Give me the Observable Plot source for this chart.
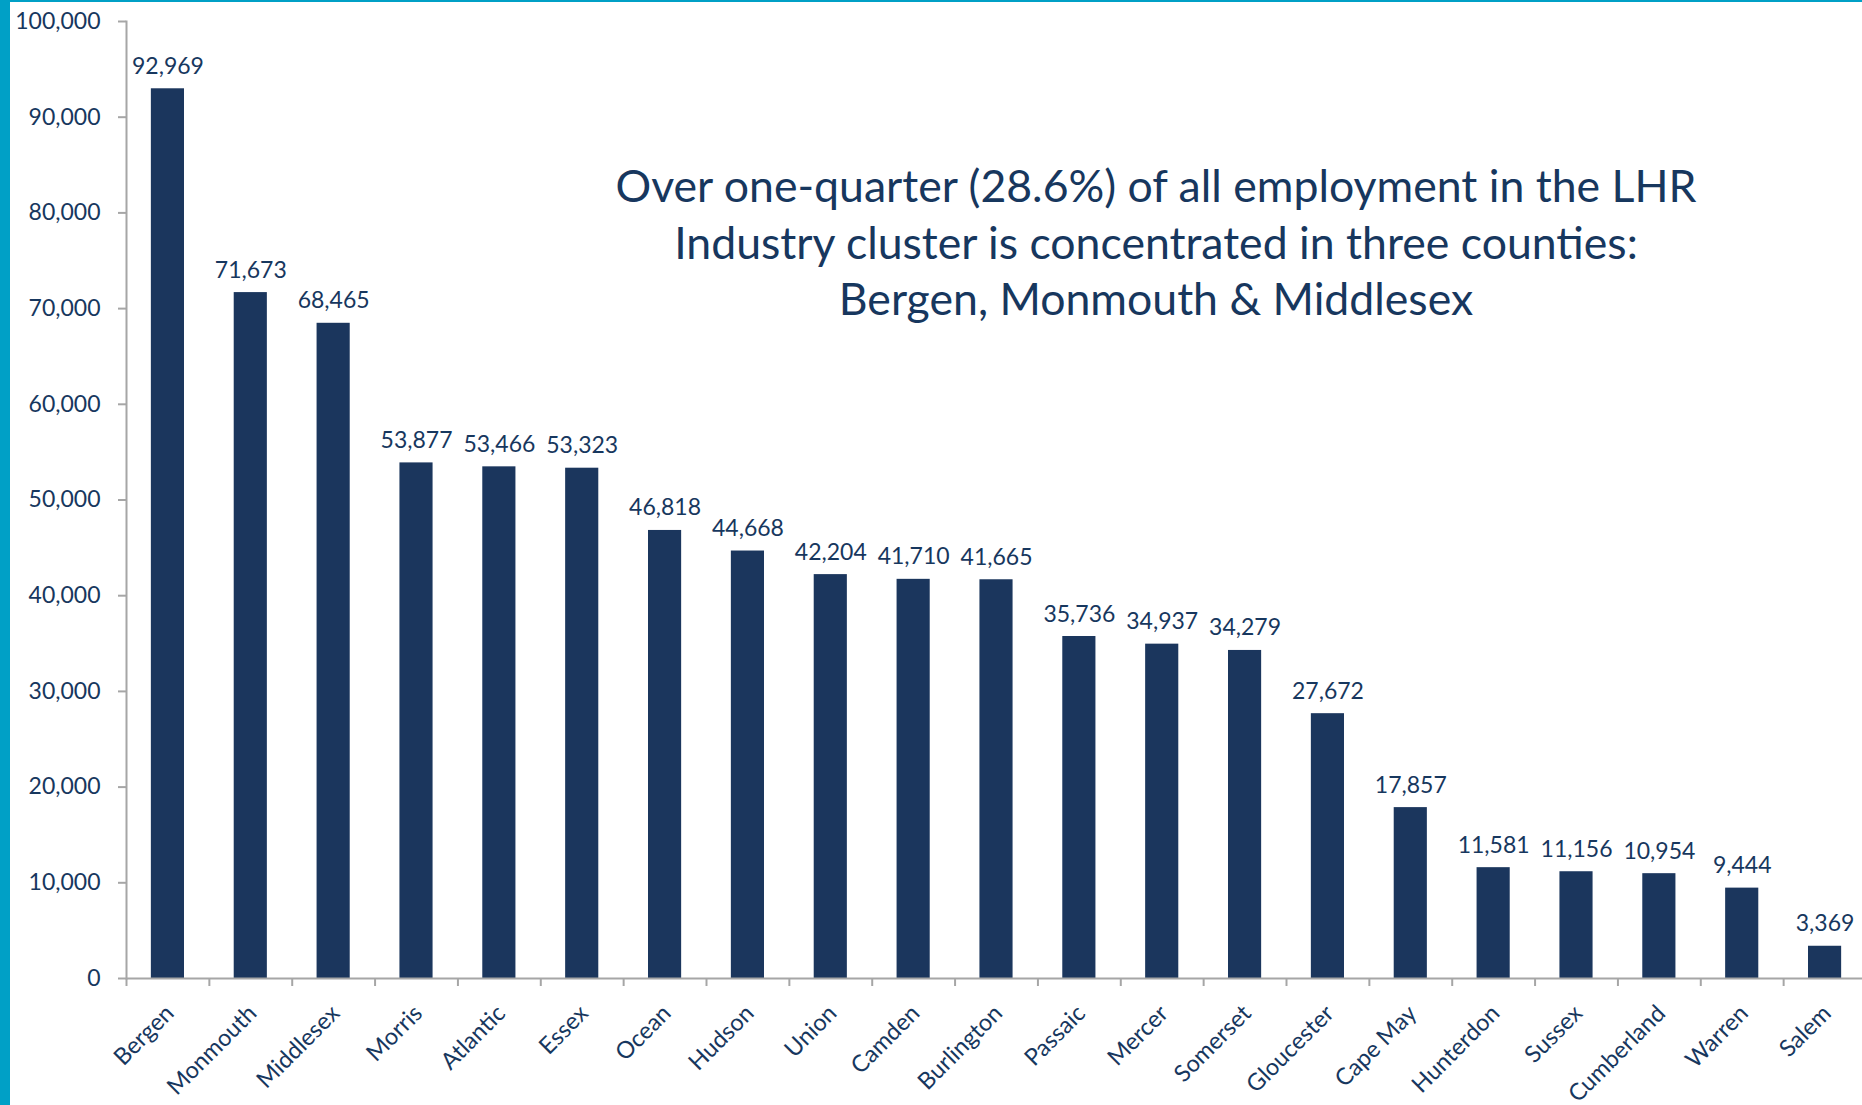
<!DOCTYPE html>
<html>
<head>
<meta charset="utf-8">
<script src="https://cdn.jsdelivr.net/npm/d3@7"></script>
<script src="https://cdn.jsdelivr.net/npm/@observablehq/plot@0.6"></script>
<style>
  html, body { margin: 0; padding: 0; background: #fff; overflow: hidden; }
  #wrap { position: relative; width: 1862px; height: 1105px; }
  #chart svg { display: block; overflow: visible; }
  #borderLeft { position: absolute; left: 0; top: 0; width: 10px; height: 1105px; background: #00A0C6; }
  #borderTop { position: absolute; left: 0; top: 0; width: 1862px; height: 2px; background: #00A0C6; }
  #note {
    position: absolute; left: 556px; top: 157px; width: 1200px;
    text-align: center; font-family: Lato, "Noto Sans", sans-serif;
    font-size: 44.6px; line-height: 56.5px; color: #17375E;
  }
</style>
</head>
<body>
<div id="wrap">
  <div id="chart"></div>
  <div id="note">Over one-quarter (28.6%) of all employment in the LHR<br>Industry cluster is concentrated in three counties:<br>Bergen, Monmouth &amp; Middlesex</div>
  <div id="borderLeft"></div>
  <div id="borderTop"></div>
</div>
<script>
const counties = ["Bergen","Monmouth","Middlesex","Morris","Atlantic","Essex","Ocean","Hudson","Union","Camden","Burlington","Passaic","Mercer","Somerset","Gloucester","Cape May","Hunterdon","Sussex","Cumberland","Warren","Salem"];
const employment = [92969,71673,68465,53877,53466,53323,46818,44668,42204,41710,41665,35736,34937,34279,27672,17857,11581,11156,10954,9444,3369];
const yTicks = [0,10000,20000,30000,40000,50000,60000,70000,80000,90000,100000];

const data = counties.map((c, i) => ({county: c, value: employment[i]}));

const W = 1862, H = 1105;
const mL = 126, mR = -4, mT = 21, mB = 127;
const step = (W - mL - mR) / counties.length;
const navy = "#17375E";
const barColor = "#1B365D";
const axisGray = "#A6A6A6";
const fmt = d3.format(",");

const chart = Plot.plot({
  width: W,
  height: H,
  marginLeft: mL,
  marginRight: mR,
  marginTop: mT,
  marginBottom: mB,
  style: {fontFamily: "Lato, 'Noto Sans', sans-serif", color: navy, background: "transparent"},
  x: {type: "band", domain: counties, paddingInner: 0.6, paddingOuter: 0.3, round: false, label: null},
  y: {domain: [0, 100000], label: null},
  marks: [
    Plot.barY(data, {x: "county", y: "value", fill: barColor}),
    Plot.frame({anchor: "left", stroke: axisGray, strokeWidth: 2}),
    Plot.ruleY([0], {stroke: axisGray, strokeWidth: 2}),
    Plot.axisY({ticks: yTicks, tickSize: 8, tickPadding: 18, tickFormat: fmt, stroke: axisGray, strokeWidth: 2, fill: navy, fontSize: 23, label: null}),
    Plot.axisX({tickSize: 8, tickFormat: () => "", dx: -step / 2, stroke: axisGray, strokeWidth: 2, label: null}),
    Plot.axisX({tickSize: 0, tickPadding: 31, tickRotate: -45, dx: 2, fill: navy, fontSize: 23.5, label: null}),
    Plot.text(data, {x: "county", y: "value", text: d => fmt(d.value), lineAnchor: "bottom", dy: -15, fill: navy, fontSize: 23})
  ]
});
document.getElementById("chart").appendChild(chart);
</script>
</body>
</html>
